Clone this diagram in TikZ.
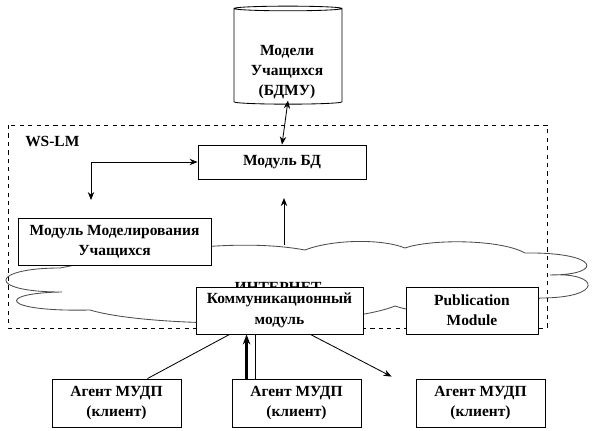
\documentclass[tikz,border=0pt]{standalone}
\usepackage{fontspec}
\setmainfont{Liberation Serif}
\usetikzlibrary{arrows.meta, shapes.geometric, positioning, calc}

\begin{document}
\begin{tikzpicture}[x=0.025cm, y=-0.025cm,
	font=\fontsize{11}{14.5}\selectfont\bfseries,
	fl/.style={-{Stealth[length=2mm, width=1.6mm]}, semithick},
	bfl/.style={{Stealth[length=2mm, width=1.6mm]}-{Stealth[length=2mm, width=1.6mm]}, semithick},
	box/.style={draw, semithick, fill=white, align=center, inner sep=1pt},
	agent/.style={box, minimum width=3.225cm, minimum height=1.2cm}]
	\useasboundingbox (0,0) rectangle (594,430);

	% ---------- internet ----------
	\draw[black!70, semithick] (60,268)
		.. controls (150,250) and (240,238) .. (305,250)
		.. controls (330,240) and (380,238) .. (405,248)
		.. controls (430,239) and (500,239) .. (525,253)
		.. controls (600,252) and (605,275) .. (550,275)
		.. controls (600,272) and (605,298) .. (540,298)
		.. controls (520,315) and (430,318) .. (395,306)
		.. controls (340,328) and (150,328) .. (90,310)
		.. controls (0,312) and (-5,293) .. (62,292)
		.. controls (-15,292) and (-10,268) .. (60,268);
	\node (inet) at (278,287) {ИНТЕРНЕТ};

	% ---------- WS-LM ----------
	\draw[dashed, semithick] (8,125) rectangle (547,328);
	\node[anchor=west, inner sep=0pt] (wslm) at (25,141) {WS-LM};

	\node[cylinder, shape border rotate=90, draw, semithick, fill=white, aspect=0.5,
		minimum width=2.7cm, minimum height=2.45cm] (db) at (288,57) {};
	\node[align=center, inner sep=1pt] (dbtext) at (287,72) {Модели\\Учащихся\\(БДМУ)};
	\node[box, minimum width=4.2cm, minimum height=0.85cm] (bd) at (282,162) {Модуль БД};
	\node[box, minimum width=4.825cm, minimum height=1.175cm] (mod) at (114.5,241.5)
		{Модуль Моделирования\\Учащихся};
	\node[box, minimum width=4.175cm, minimum height=1.175cm] (comm) at (279.5,310.5)
		{Коммуникационный\\модуль};
	\node[box, minimum width=3.3cm, minimum height=1.175cm] (pub) at (472,310.5)
		{Publication\\Module};

	% ---------- agents ----------
	\node[agent] (ag1) at (116.5,403) {Агент МУДП\\(клиент)};
	\node[agent] (ag2) at (296.5,403) {Агент МУДП\\(клиент)};
	\node[agent] (ag3) at (480.5,403) {Агент МУДП\\(клиент)};

	% ---------- connectors ----------
	\coordinate (modTop) at (91,200);
	\coordinate (netTop) at (284,245);
	\coordinate (upEnd) at (284,198);
	\draw[bfl] (bd.north) -- ($(db.south)+(0,-4)$);
	\draw[bfl] (modTop) |- (bd.west);
	\draw[fl] (netTop) -- (upEnd);
	\draw[semithick] ($(ag1.north east)+(-34,0)$) -- ($(comm.south west)+(34,0)$);
	\draw[fl] ($(comm.south east)+(-53,0)$) -- ($(ag3.north west)+(-24,-2)$);
	\draw[-{Stealth[length=2.5mm]}, line width=1.8pt] ($(ag2.north west)+(15,0)$) coordinate (m1)
		-- (m1 |- comm.south);
	\draw[semithick] ($(ag2.north west)+(24,0)$) coordinate (m2) -- (m2 |- comm.south);
\end{tikzpicture}
\end{document}
